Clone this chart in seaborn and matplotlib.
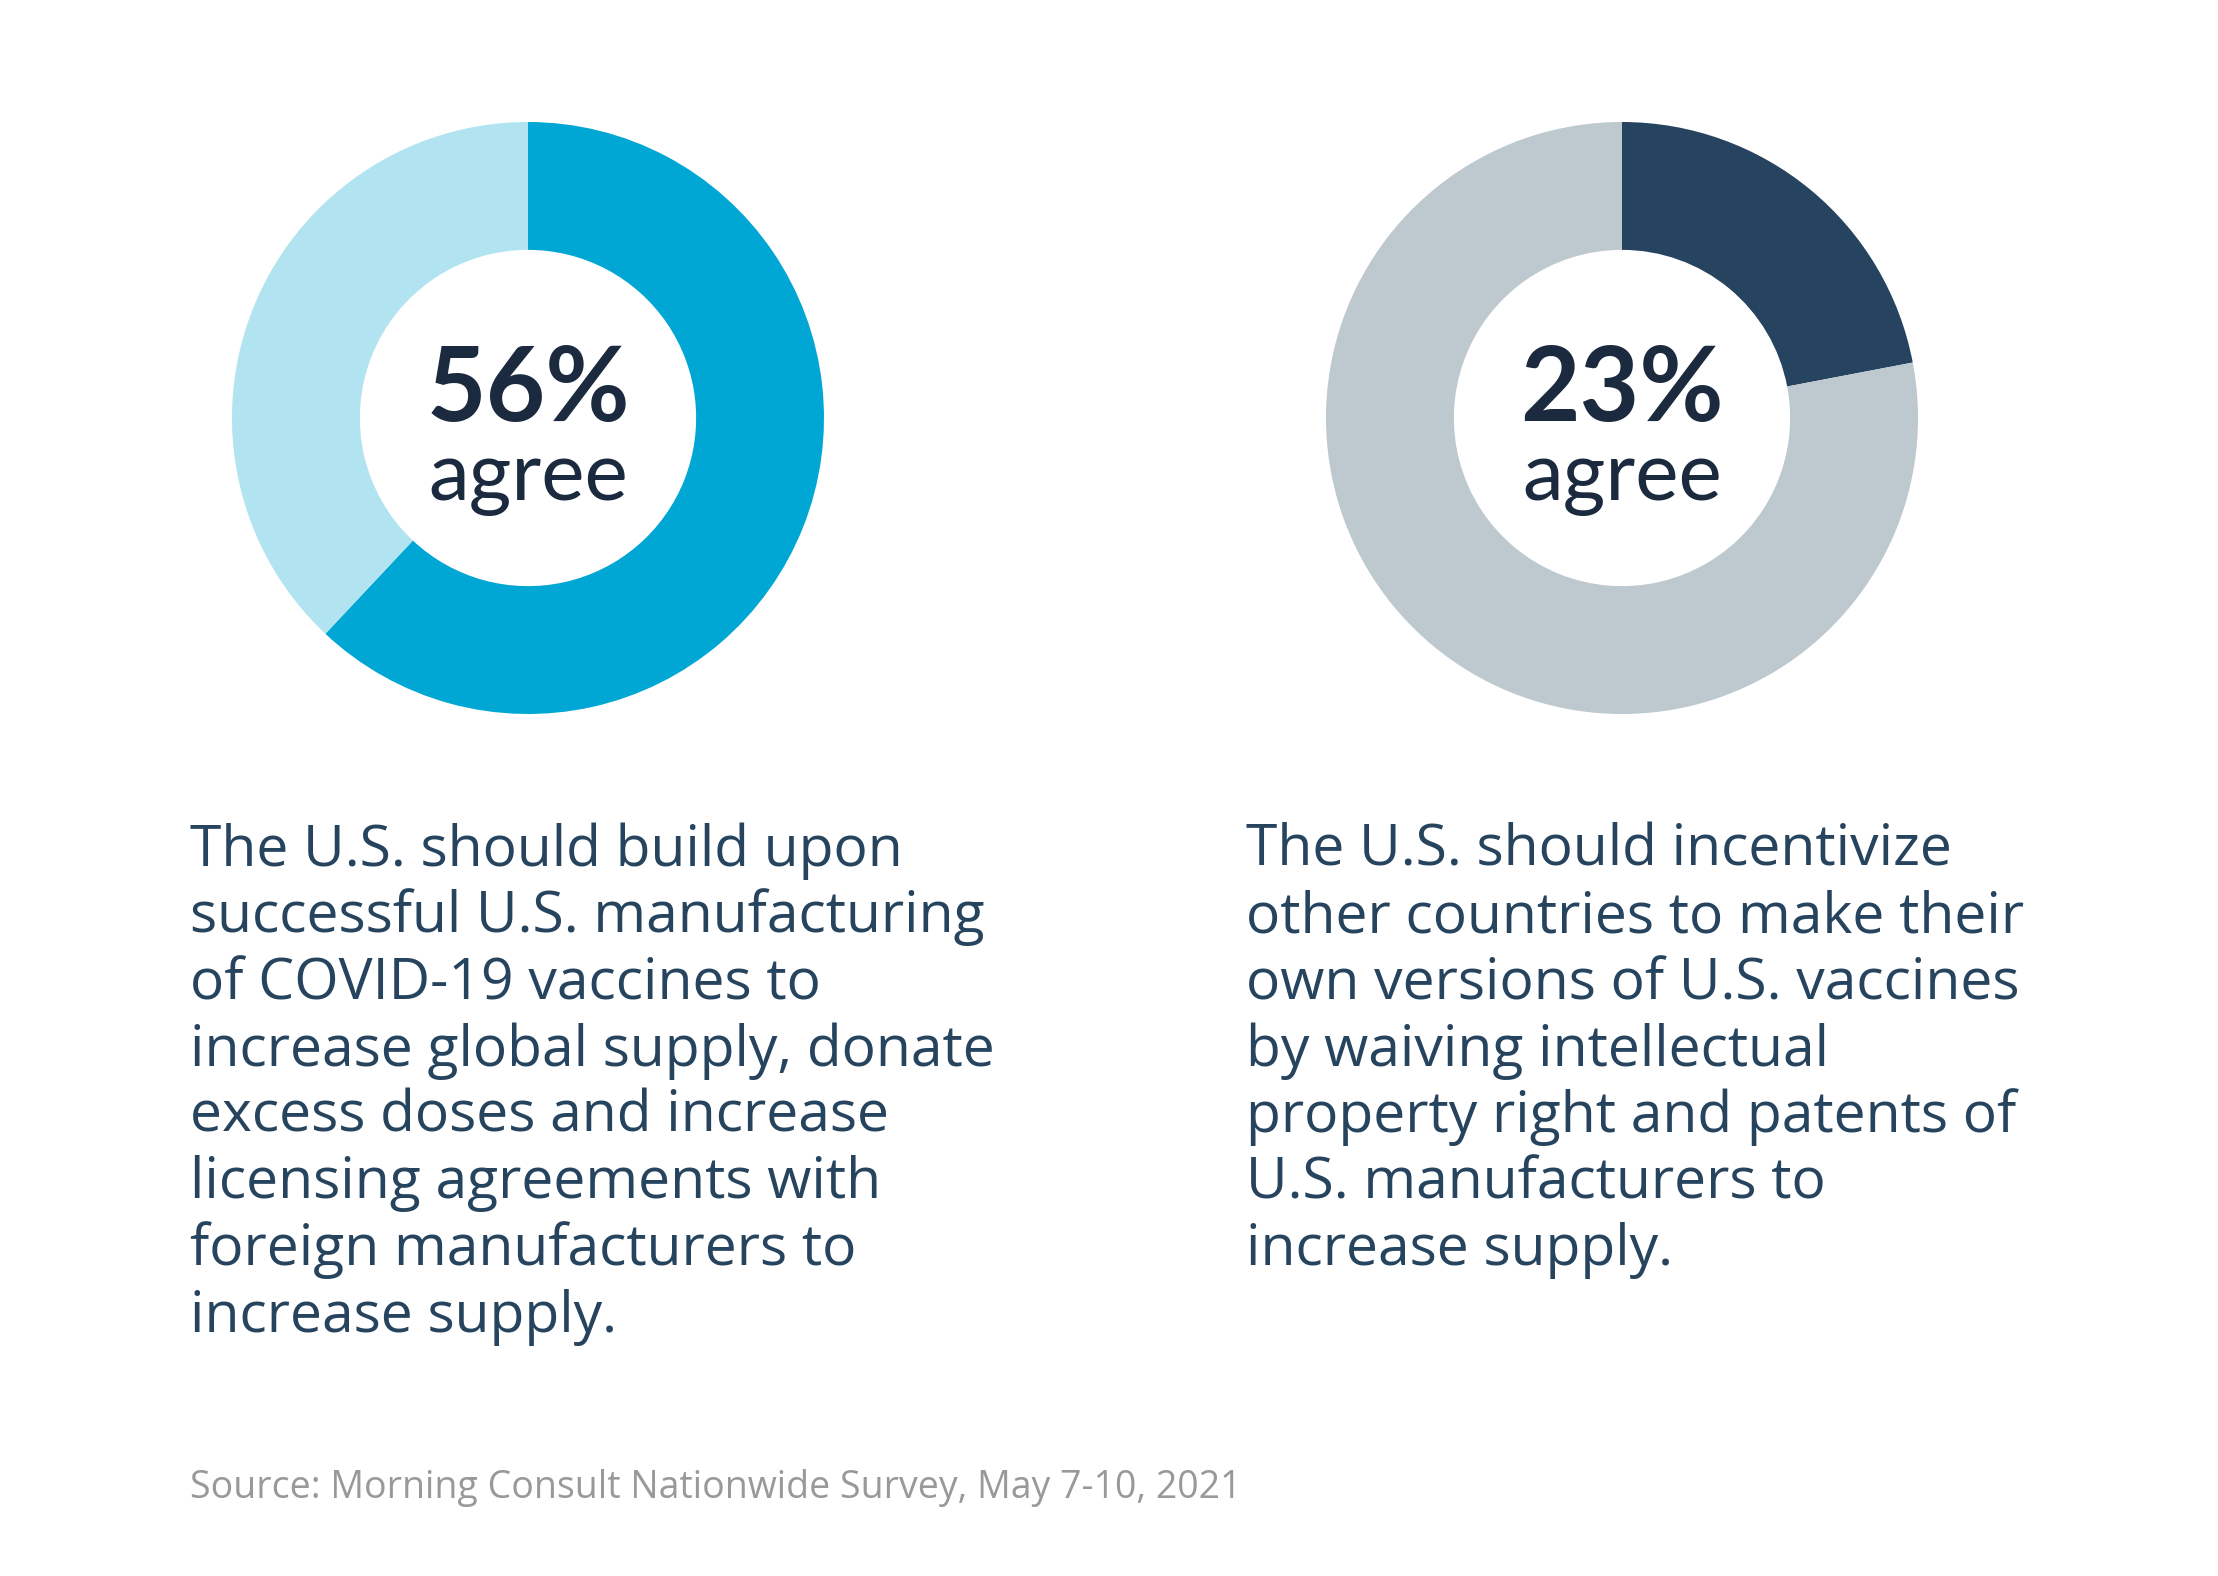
import matplotlib
matplotlib.use("Agg")
import matplotlib.pyplot as plt
import seaborn as sns

sns.set_theme(style="white")
plt.rcParams["font.family"] = ["Open Sans", "DejaVu Sans"]

# Share of the ring filled, as drawn in the picture (label text is separate)
ring_share = [62, 22]
pct_labels = ["56%", "23%"]
center_word = "agree"
statements = [
    ["The U.S. should build upon",
     "successful U.S. manufacturing",
     "of COVID-19 vaccines to",
     "increase global supply, donate",
     "excess doses and increase",
     "licensing agreements with",
     "foreign manufacturers to",
     "increase supply."],
    ["The U.S. should incentivize",
     "other countries to make their",
     "own versions of U.S. vaccines",
     "by waiving intellectual",
     "property right and patents of",
     "U.S. manufacturers to",
     "increase supply."],
]
source_note = "Source: Morning Consult Nationwide Survey, May 7-10, 2021"

# Styling
ring_colors = [("#00a6d4", "#b2e3f0"), ("#26445f", "#bdc8cf")]
num_color = "#1b2a3e"
body_color = "#27445f"
source_color = "#999999"

W, H = 2218, 1576
fig = plt.figure(figsize=(W / 100, H / 100), dpi=100)
fig.patch.set_facecolor("white")

centers_x = [528, 1622]
center_y = 418
radius = 296
text_x = [190, 1246]


def fx(px):
    return px / W


def fy(py):
    return 1 - py / H


for i, share in enumerate(ring_share):
    cx = centers_x[i]
    ax = fig.add_axes([fx(cx - radius), fy(center_y + radius),
                       2 * radius / W, 2 * radius / H])
    ax.pie([share, 100 - share], colors=list(ring_colors[i]), startangle=90,
           counterclock=False, radius=1,
           wedgeprops=dict(width=0.432, linewidth=0))
    ax.set_xlim(-1, 1)
    ax.set_ylim(-1, 1)
    ax.set_axis_off()

    fig.text(fx(cx), fy(421), pct_labels[i], ha="center", va="baseline",
             fontsize=74, fontweight="bold", color=num_color, family="Lato")
    fig.text(fx(cx), fy(500), center_word, ha="center", va="baseline",
             fontsize=59, color=num_color, family="Lato")

    for j, line in enumerate(statements[i]):
        fig.text(fx(text_x[i]), fy(866 + j * 66.5), line, ha="left",
                 va="baseline", fontsize=41, color=body_color)

fig.text(fx(190), fy(1498), source_note, ha="left", va="baseline",
         fontsize=27, color=source_color)

fig.savefig("out.png", dpi=100, facecolor="white")
